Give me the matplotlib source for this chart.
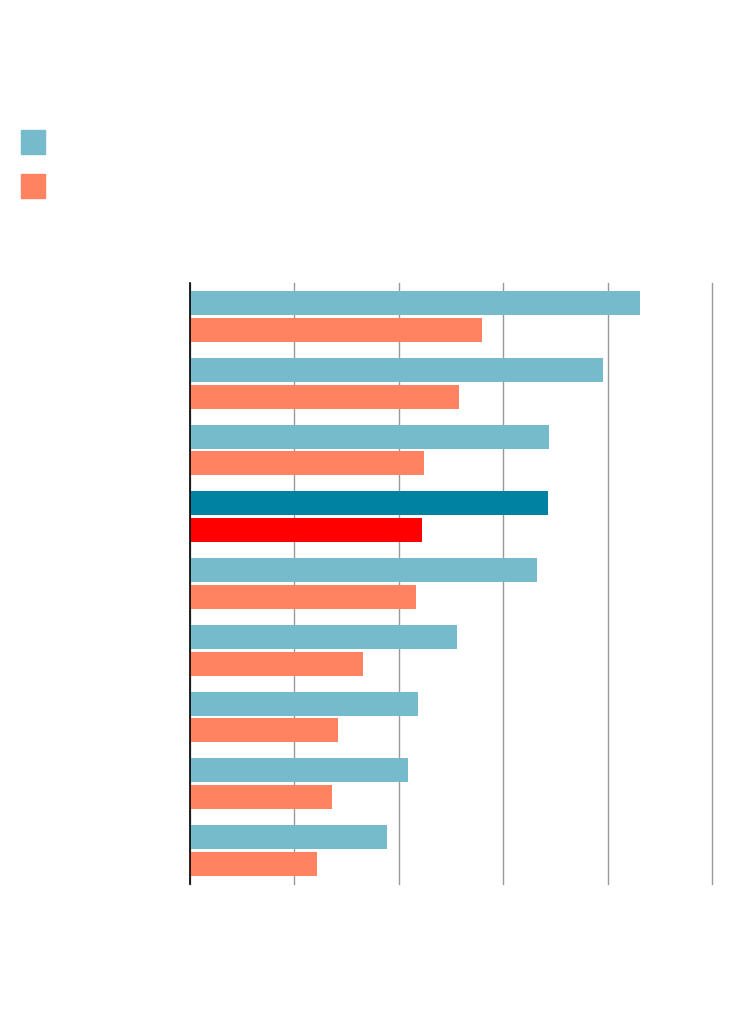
import numpy as np
import matplotlib.pyplot as plt
from matplotlib.patches import Rectangle

# values (gridline step = 10)
series_a = [43.1, 39.6, 34.4, 34.3, 33.2, 25.6, 21.8, 20.9, 18.9]
series_b = [28.0, 25.8, 22.4, 22.2, 21.6, 16.6, 14.2, 13.6, 12.2]
highlight = 3

blue = '#75bbcc'
orange = '#ff8360'
dark_blue = '#0083a3'
red = '#ff0000'

fig = plt.figure(figsize=(7.5, 10.24), dpi=100)
ax = fig.add_axes([190 / 750, 1 - 884 / 1024, 522 / 750, 601 / 1024])

y = np.arange(len(series_a))
cols_a = [dark_blue if i == highlight else blue for i in y]
cols_b = [red if i == highlight else orange for i in y]
ax.barh(y - 0.2, series_a, height=0.36, color=cols_a, zorder=3)
ax.barh(y + 0.2, series_b, height=0.36, color=cols_b, zorder=3)

ax.set_xlim(0, 50)
ax.set_ylim(len(series_a) - 0.5, -0.5)
ax.set_xticks(np.arange(0, 51, 10))
ax.set_yticks([])
ax.tick_params(axis='x', length=0, labelbottom=False)
ax.grid(axis='x', color='#999999', linewidth=1, zorder=0)
for gl in ax.get_xgridlines():
    gl.set_clip_on(False)
for s in ['top', 'right', 'bottom']:
    ax.spines[s].set_visible(False)
ax.spines['left'].set_color('black')
ax.spines['left'].set_linewidth(1.2)
ax.spines['left'].set_zorder(4)

# legend swatches
for yy, c in [(130, blue), (174, orange)]:
    fig.add_artist(Rectangle((21 / 750, 1 - (yy + 24) / 1024), 24 / 750, 24 / 1024,
                             transform=fig.transFigure, color=c))

fig.savefig('out.png', dpi=100)
